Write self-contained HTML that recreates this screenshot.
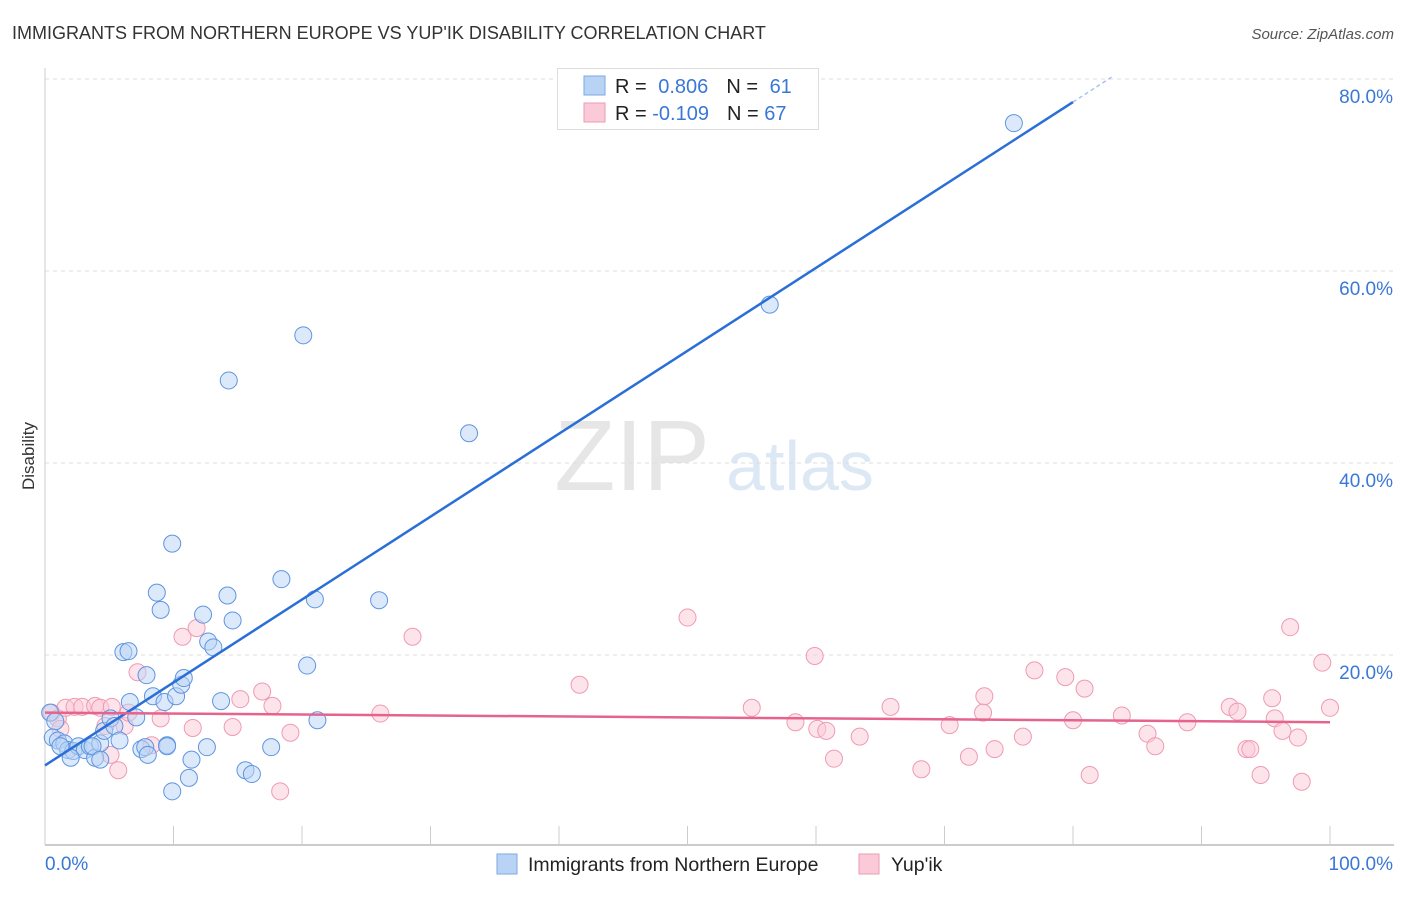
<!DOCTYPE html>
<html><head><meta charset="utf-8"><style>
body{margin:0;background:#fff;font-family:"Liberation Sans",sans-serif;}
svg text{font-family:"Liberation Sans",sans-serif;}
</style></head><body>
<svg id="chart" width="1406" height="892" xmlns="http://www.w3.org/2000/svg">
<text x="12" y="39" font-size="18" fill="#333">IMMIGRANTS FROM NORTHERN EUROPE VS YUP'IK DISABILITY CORRELATION CHART</text>
<text x="1394" y="39" font-size="15" fill="#555" font-style="italic" text-anchor="end">Source: ZipAtlas.com</text>
<text x="34" y="456" font-size="17" fill="#333" text-anchor="middle" transform="rotate(-90 34 456)">Disability</text>
<g><text x="632" y="490" font-size="100" fill="#e6e6e6" text-anchor="middle" font-family="Liberation Serif">ZIP</text><text x="800" y="490" font-size="70" fill="#dde8f5" text-anchor="middle">atlas</text></g>
<g id="grid"></g><g id="axes"></g><g id="pts"></g><g id="lines"></g>
<g>
<rect x="557.5" y="68.5" width="261" height="61" fill="#fff" stroke="#ddd"/>
<rect x="584" y="76" width="21" height="19" fill="#b9d3f5" stroke="#7aa8e6"/>
<rect x="584" y="103" width="21" height="19" fill="#fbcad8" stroke="#ef9ab4"/>
<text x="615" y="93" font-size="20" fill="#222">R = <tspan fill="#3a78d6" dx="6">0.806</tspan><tspan dx="18" fill="#222">N = </tspan><tspan fill="#3a78d6" dx="6">61</tspan></text>
<text x="615" y="120" font-size="20" fill="#222">R = <tspan fill="#3a78d6">-0.109</tspan><tspan dx="18" fill="#222">N = </tspan><tspan fill="#3a78d6">67</tspan></text>
</g>
<g>
<rect x="497" y="854" width="20" height="20" fill="#b9d3f5" stroke="#7aa8e6"/>
<text x="528" y="871" font-size="19.5" fill="#222">Immigrants from Northern Europe</text>
<rect x="859" y="854" width="20" height="20" fill="#fbcad8" stroke="#ef9ab4"/>
<text x="891" y="871" font-size="19.5" fill="#222">Yup'ik</text>
</g>
</svg>
<script>
const yTicks=[20,40,60,80];
const xTickLabels=["0.0%","100.0%"];
const blueX=[0.4,0.8,0.6,1.0,1.5,1.8,2.2,2.6,3.1,3.5,3.9,4.3,4.6,5.1,5.4,5.8,6.1,6.5,6.6,7.1,7.5,7.8,8.0,7.9,8.4,8.7,9.0,9.3,9.9,10.2,10.6,10.8,11.2,11.4,9.9,9.5,12.3,12.7,13.1,12.6,13.7,14.2,14.3,14.6,15.6,16.1,17.6,18.4,20.1,20.4,21.0,21.2,26.0,33.0,56.4,75.4,9.5,1.2,2.0,3.7,4.3];
const blueY=[14.0,13.1,11.4,11.1,10.8,10.1,10.0,10.5,10.1,10.5,9.3,10.8,12.1,13.4,12.6,11.1,20.3,20.4,15.1,13.5,10.2,10.4,9.6,17.9,15.7,26.5,24.7,15.1,31.6,15.7,16.9,17.6,7.2,9.1,5.8,10.6,24.2,21.4,20.8,10.4,15.2,26.2,48.6,23.6,8.0,7.6,10.4,27.9,53.3,18.9,25.8,13.2,25.7,43.1,56.5,75.4,10.5,10.5,9.3,10.5,9.1];
const pinkX=[0.5,1.0,1.6,2.3,2.9,3.9,4.3,5.2,5.1,5.7,6.2,7.2,8.3,9.0,10.7,11.5,11.8,14.6,15.2,16.9,17.7,18.3,19.1,26.1,28.6,41.6,50.0,55.0,58.4,59.9,60.1,60.8,61.4,63.4,65.8,68.2,70.4,71.9,73.1,73.0,73.9,76.1,77.0,79.4,80.0,80.9,81.3,83.8,85.8,86.4,88.9,92.2,92.8,93.5,93.8,94.6,95.5,95.7,96.3,96.9,97.5,97.8,99.4,100.0,6.5,4.7,1.2];
const pinkY=[14.0,13.4,14.5,14.6,14.6,14.7,14.5,14.6,9.6,8.0,12.6,18.2,10.6,13.4,21.9,12.4,22.8,12.5,15.4,16.2,14.7,5.8,11.9,13.9,21.9,16.9,23.9,14.5,13.0,19.9,12.3,12.1,9.2,11.5,14.6,8.1,12.7,9.4,15.7,14.0,10.2,11.5,18.4,17.7,13.2,16.5,7.5,13.7,11.8,10.5,13.0,14.6,14.1,10.2,10.2,7.5,15.5,13.4,12.1,22.9,11.4,6.8,19.2,14.5,14.0,12.6,12.3];
const blueLine=[[0,8.5],[80,77.6]];
const pinkLine=[[0,14.0],[100,13.0]];
const NS="http://www.w3.org/2000/svg";
const X=v=>45+v*12.85, Y=v=>847-v*9.6;
function mk(tag,attrs,parent){const e=document.createElementNS(NS,tag);for(const k in attrs)e.setAttribute(k,attrs[k]);document.getElementById(parent).appendChild(e);return e;}
yTicks.forEach(t=>{
 const g=mk('line',{x1:45,x2:1394,y1:Y(t),y2:Y(t),stroke:'#ddd','stroke-dasharray':'4,4'},'grid');
 
 
 const tx=mk('text',{x:1393,y:Y(t)+24,'font-size':19,fill:'#3a78d6','text-anchor':'end'},'grid');
 tx.textContent=t.toFixed(1)+'%';
 
 
});
const ax=mk('line',{x1:45,x2:1394,y1:845,y2:845,stroke:'#bbb','stroke-width':1.5},'axes');


const ay=mk('line',{x1:45,x2:45,y1:68,y2:845,stroke:'#ccc'},'axes');


for(let i=0;i<=10;i++){const t=mk('line',{x1:X(i*10),x2:X(i*10),y1:826,y2:845,stroke:'#ccc'},'axes');
 
 }
[[0,'start'],[100,'end']].forEach((p,i)=>{const t=mk('text',{x:i?1393:45,y:870,'font-size':19,fill:'#3a78d6','text-anchor':p[1]},'axes');t.textContent=xTickLabels[i];
 
 });
function pts(xs,ys,fill,stroke,name){xs.forEach((x,i)=>{const c=mk('circle',{cx:X(x),cy:Y(ys[i]),r:8.5,fill:fill,'fill-opacity':0.5,stroke:stroke,'stroke-width':1},'pts');
 
 });}
pts(pinkX,pinkY,'#fbcad8','#ef9ab4','yupik-point');
pts(blueX,blueY,'#b9d3f5','#5e95e0','northern-europe-point');
const bl=mk('line',{x1:X(blueLine[0][0]),y1:Y(blueLine[0][1]),x2:X(blueLine[1][0]),y2:Y(blueLine[1][1]),stroke:'#2a6fd6','stroke-width':2.5},'lines');


const s=(blueLine[1][1]-blueLine[0][1])/(blueLine[1][0]-blueLine[0][0]);
const bd=mk('line',{x1:X(80),y1:Y(blueLine[1][1]),x2:X(83),y2:Y(blueLine[1][1]+3*s),stroke:'#aac4ee','stroke-width':1.5,'stroke-dasharray':'4,3'},'lines');


const pl=mk('line',{x1:X(pinkLine[0][0]),y1:Y(pinkLine[0][1]),x2:X(pinkLine[1][0]),y2:Y(pinkLine[1][1]),stroke:'#e5638c','stroke-width':2.5},'lines');


</script>
</body></html>
